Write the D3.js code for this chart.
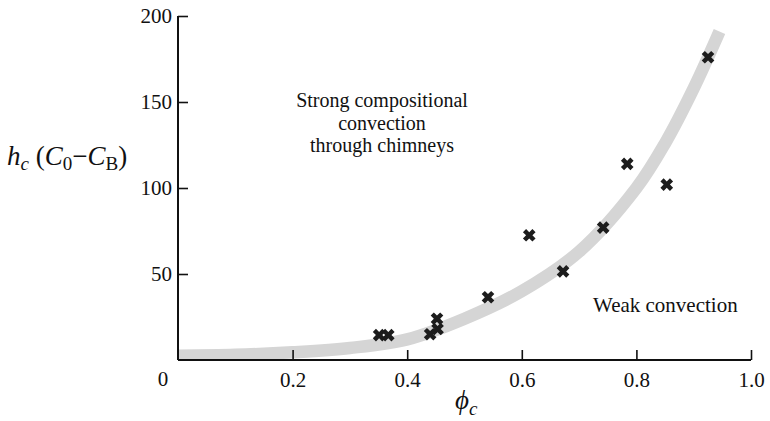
<!DOCTYPE html>
<html>
<head>
<meta charset="utf-8">
<script src="https://cdn.jsdelivr.net/npm/d3@7"></script>
<style>
  body { margin: 0; background: #fff; }
  svg { display: block; }
  text { font-family: "Liberation Serif", "DejaVu Serif", serif; fill: #111; }
</style>
</head>
<body>
<div id="wrapper"></div>
<script>
// measured points (phi_c, h_c (C0 - CB))
const phiValues = [0.351, 0.367, 0.44, 0.453, 0.452, 0.541, 0.613, 0.672, 0.742, 0.784, 0.853, 0.925]
const hcValues = [14.5, 14.5, 15, 18, 24, 36.5, 72.5, 51.5, 77, 114, 102, 176]

// centre line of the grey band
const bandPhi = [0, 0.1, 0.2, 0.3, 0.4, 0.5, 0.6, 0.7, 0.8, 0.85, 0.9, 0.945]
const bandHc = [2.5, 3, 4.5, 7, 12, 24, 40, 63, 100, 126, 158, 191]

const xTicks = [0.2, 0.4, 0.6, 0.8, 1.0]
const yTicks = [50, 100, 150, 200]

function drawChart() {
    const width = 770
    const height = 421
    const margin = { top: 16, right: 19, bottom: 61, left: 178 }
    const boundedWidth = width - margin.left - margin.right
    const boundedHeight = height - margin.top - margin.bottom

    const svg = d3.select("#wrapper")
        .append("svg")
        .attr("width", width)
        .attr("height", height)

    const bounds = svg.append("g")
        .attr("transform", `translate(${margin.left},${margin.top})`)

    const xScale = d3.scaleLinear()
        .domain([0, 1])
        .range([0, boundedWidth])
    const yScale = d3.scaleLinear()
        .domain([0, 200])
        .range([boundedHeight, 0])

    bounds.append("clipPath")
        .attr("id", "plot-clip")
        .append("rect")
        .attr("x", 0)
        .attr("y", -20)
        .attr("width", boundedWidth)
        .attr("height", boundedHeight + 20)

    // grey band
    const band = bandPhi.map((p, i) => ({ phi: p, hc: bandHc[i] }))
    const bandLine = d3.line()
        .x(d => xScale(d.phi))
        .y(d => yScale(d.hc))
        .curve(d3.curveCatmullRom.alpha(0.5))

    bounds.append("path")
        .datum(band)
        .attr("clip-path", "url(#plot-clip)")
        .attr("d", bandLine)
        .attr("fill", "none")
        .attr("stroke", "#d5d5d5")
        .attr("stroke-width", 12.5)
        .attr("stroke-linecap", "butt")

    // axes
    const xAxis = bounds.append("g")
        .attr("transform", `translate(0,${boundedHeight})`)
        .call(d3.axisBottom(xScale)
            .tickValues(xTicks)
            .tickSize(-10)
            .tickPadding(18)
            .tickFormat(d3.format(".1f")))
    const yAxis = bounds.append("g")
        .call(d3.axisLeft(yScale)
            .tickValues(yTicks)
            .tickSize(-10)
            .tickPadding(16))

    for (const ax of [xAxis, yAxis]) {
        ax.select(".domain").attr("stroke", "#111").attr("stroke-width", 2)
            .attr("d", ax === xAxis ? `M0,0H${boundedWidth}` : `M0,0V${boundedHeight}`)
        ax.selectAll(".tick line").attr("stroke", "#111").attr("stroke-width", 1.6)
        ax.selectAll(".tick text")
            .style("font-family", "'Liberation Serif', serif")
            .style("font-size", "21px")
            .attr("fill", "#111")
    }
    xAxis.selectAll(".tick text").attr("dy", "0.71em").attr("y", 12)
    yAxis.selectAll(".tick text").attr("x", -6)

    // origin label
    bounds.append("text")
        .attr("x", xScale(0) - 15)
        .attr("y", boundedHeight + 26)
        .attr("text-anchor", "middle")
        .style("font-size", "21px")
        .text("0")

    // markers
    const cross = d3.symbol().type(d3.symbolCross).size(100)
    bounds.selectAll(".mark")
        .data(phiValues.map((p, i) => ({ phi: p, hc: hcValues[i] })))
        .join("path")
        .attr("class", "mark")
        .attr("d", cross)
        .attr("transform", d => `translate(${xScale(d.phi)},${yScale(d.hc)}) rotate(45)`)
        .attr("fill", "#1c1c1c")

    // region labels
    const strong = bounds.append("text")
        .attr("text-anchor", "middle")
        .style("font-size", "20px")
    ;["Strong compositional", "convection", "through chimneys"].forEach((t, i) => {
        strong.append("tspan")
            .attr("x", 382 - margin.left)
            .attr("y", 107 - margin.top + i * 22.5)
            .text(t)
    })

    bounds.append("text")
        .attr("x", 593 - margin.left)
        .attr("y", 312 - margin.top)
        .style("font-size", "21px")
        .text("Weak convection")

    // axis titles
    const yTitle = svg.append("text")
        .attr("x", 7)
        .attr("y", 165)
        .style("font-size", "27px")
    yTitle.append("tspan").style("font-style", "italic").text("h")
    yTitle.append("tspan").style("font-style", "italic").style("font-size", "19px").attr("dy", 5).text("c")
    yTitle.append("tspan").attr("dy", -5).text(" (")
    yTitle.append("tspan").style("font-style", "italic").text("C")
    yTitle.append("tspan").style("font-size", "19px").attr("dy", 5).text("0")
    yTitle.append("tspan").attr("dy", -5).text("\u2212")
    yTitle.append("tspan").style("font-style", "italic").text("C")
    yTitle.append("tspan").style("font-size", "19px").attr("dy", 5).text("B")
    yTitle.append("tspan").attr("dy", -5).text(")")

    const xTitle = svg.append("text")
        .attr("x", 455)
        .attr("y", 409)
        .style("font-size", "27px")
    xTitle.append("tspan").style("font-style", "italic").text("\u03d5")
    xTitle.append("tspan").style("font-style", "italic").style("font-size", "19px").attr("dy", 6).text("c")
}

drawChart()
</script>
</body>
</html>
